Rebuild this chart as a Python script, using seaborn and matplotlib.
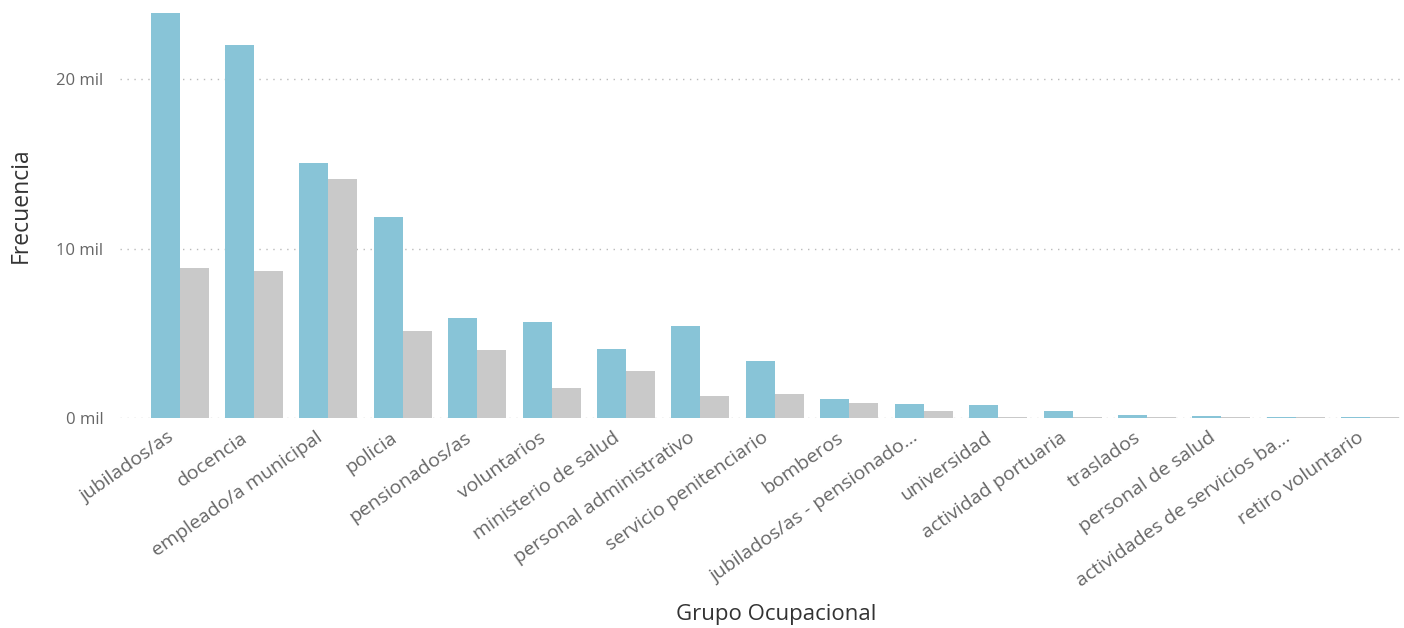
import pandas as pd
import seaborn as sns
import matplotlib.pyplot as plt
from matplotlib.ticker import FuncFormatter
from matplotlib.transforms import ScaledTranslation

# Categories and the two series
grupos = [
    'jubilados/as', 'docencia', 'empleado/a municipal', 'policia',
    'pensionados/as', 'voluntarios', 'ministerio de salud',
    'personal administrativo', 'servicio penitenciario', 'bomberos',
    'jubilados/as - pensionado...', 'universidad', 'actividad portuaria',
    'traslados', 'personal de salud', 'actividades de servicios ba...',
    'retiro voluntario',
]
serie_a = [23900, 22000, 15050, 11850, 5900, 5650, 4100, 5450, 3350, 1100,
           800, 740, 430, 200, 100, 80, 80]
serie_b = [8850, 8650, 14080, 5120, 4020, 1770, 2800, 1300, 1390, 900,
           410, 80, 50, 50, 70, 60, 60]

df = pd.DataFrame({
    'Grupo Ocupacional': grupos * 2,
    'Frecuencia': serie_a + serie_b,
    'Serie': ['A'] * len(grupos) + ['B'] * len(grupos),
})

sns.set_style('white')
plt.rcParams['font.family'] = ['Open Sans', 'DejaVu Sans']

fig = plt.figure(figsize=(14.04, 6.28), dpi=100)
ax = fig.add_axes([120 / 1404, 1 - 418 / 628, 1280 / 1404, 418 / 628])

sns.barplot(data=df, x='Grupo Ocupacional', y='Frecuencia', hue='Serie',
            palette=['#88C4D7', '#C9C9C9'], width=0.78, saturation=1,
            linewidth=0, legend=False, ax=ax, zorder=2)

ax.set_ylim(0, 24670)
ax.set_xlim(-0.8, 16.4)
ax.set_yticks([0, 10000, 20000])
ax.yaxis.set_major_formatter(FuncFormatter(lambda v, p: f'{v / 1000:.0f} mil'))
ax.grid(axis='y', linestyle=(0, (1, 4)), color='#BBBBBB', linewidth=1, zorder=0)
ax.grid(axis='x', visible=False)
for s in ax.spines.values():
    s.set_visible(False)

ax.tick_params(axis='y', length=0, pad=12, labelsize=12, labelcolor='#666666')
ax.tick_params(axis='x', length=0, pad=13, labelsize=14, labelcolor='#666666')
shift = ScaledTranslation(-0.08, 0, fig.dpi_scale_trans)
for lbl in ax.get_xticklabels():
    lbl.set_rotation(35)
    lbl.set_ha('right')
    lbl.set_va('center')
    lbl.set_rotation_mode('anchor')
    lbl.set_transform(lbl.get_transform() + shift)

ax.set_ylabel('Frecuencia', fontsize=16.5, color='#333333')
ax.yaxis.set_label_coords(-0.0680, 0.51)
ax.set_xlabel('Grupo Ocupacional', fontsize=16, color='#333333')
ax.xaxis.set_label_coords(0.513, -0.445)

fig.savefig('out.png', dpi=100)
